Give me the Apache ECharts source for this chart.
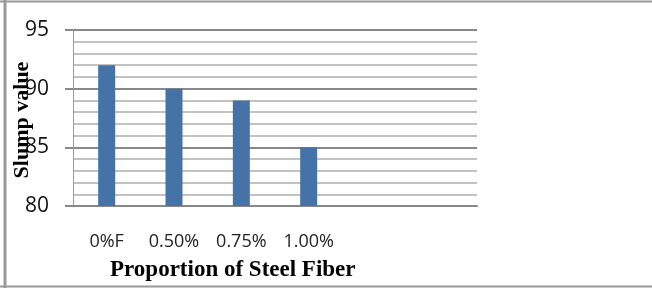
<!DOCTYPE html>
<html>
<head>
<meta charset="utf-8">
<script src="https://cdn.jsdelivr.net/npm/echarts@6/dist/echarts.min.js"></script>
<style>
  html, body { margin: 0; padding: 0; background: #fff; }
  #chart { width: 652px; height: 288px; }
</style>
</head>
<body>
<div id="chart"></div>
<script>
// categories on the x axis (last two slots are empty in the original)
var categories = ['0%F', '0.50%', '0.75%', '1.00%', '', ''];
// slump values
var slump = [92, 90, 89, 85];
// y axis range
var yMin = 80, yMax = 95, yStep = 5;

var myChart = echarts.init(document.getElementById('chart'));

var option = {
    animation: false,
    grid: { left: 73, right: 175, top: 30, bottom: 82 },
    xAxis: {
        type: 'category',
        data: categories,
        axisLine: { lineStyle: { color: '#888', width: 2 } },
        axisTick: { show: false },
        axisLabel: {
            margin: 27,
            fontSize: 18,
            fontFamily: 'Open Sans',
            color: '#222',
            interval: 0
        }
    },
    yAxis: {
        type: 'value',
        min: yMin,
        max: yMax,
        interval: yStep,
        axisLine: { show: true, lineStyle: { color: '#999', width: 1 } },
        axisTick: { show: true, length: 8, lineStyle: { color: '#888', width: 2 } },
        axisLabel: {
            margin: 24,
            fontSize: 21,
            fontFamily: 'Open Sans',
            color: '#111'
        },
        splitLine: { lineStyle: { color: '#888', width: 2 } },
        minorTick: { show: false, splitNumber: 5, length: 0 },
        minorSplitLine: { show: true, lineStyle: { color: '#c2c2c2', width: 2 } }
    },
    series: [{
        type: 'bar',
        data: slump,
        barWidth: 17,
        itemStyle: { color: '#4572a7' }
    }],
    graphic: [
        { type: 'line', shape: { x1: 5, y1: 0, x2: 5, y2: 288 }, style: { stroke: '#999', lineWidth: 3 } },
        { type: 'line', shape: { x1: 0, y1: 1.5, x2: 652, y2: 1.5 }, style: { stroke: '#999', lineWidth: 2 } },
        { type: 'line', shape: { x1: 0, y1: 286.5, x2: 652, y2: 286.5 }, style: { stroke: '#999', lineWidth: 2 } },
        {
            type: 'text',
            left: 110,
            top: 259,
            style: {
                text: 'Proportion of Steel Fiber',
                font: 'bold 23px "Liberation Serif"',
                fill: '#000'
            }
        },
        {
            type: 'text',
            x: 22,
            y: 120,
            rotation: Math.PI / 2,
            style: {
                text: 'Slump value',
                font: 'bold 22px "Liberation Serif"',
                fill: '#000',
                align: 'center',
                verticalAlign: 'middle'
            }
        }
    ]
};

myChart.setOption(option);

window.addEventListener('resize', function () {
    myChart.resize();
});
</script>
</body>
</html>
